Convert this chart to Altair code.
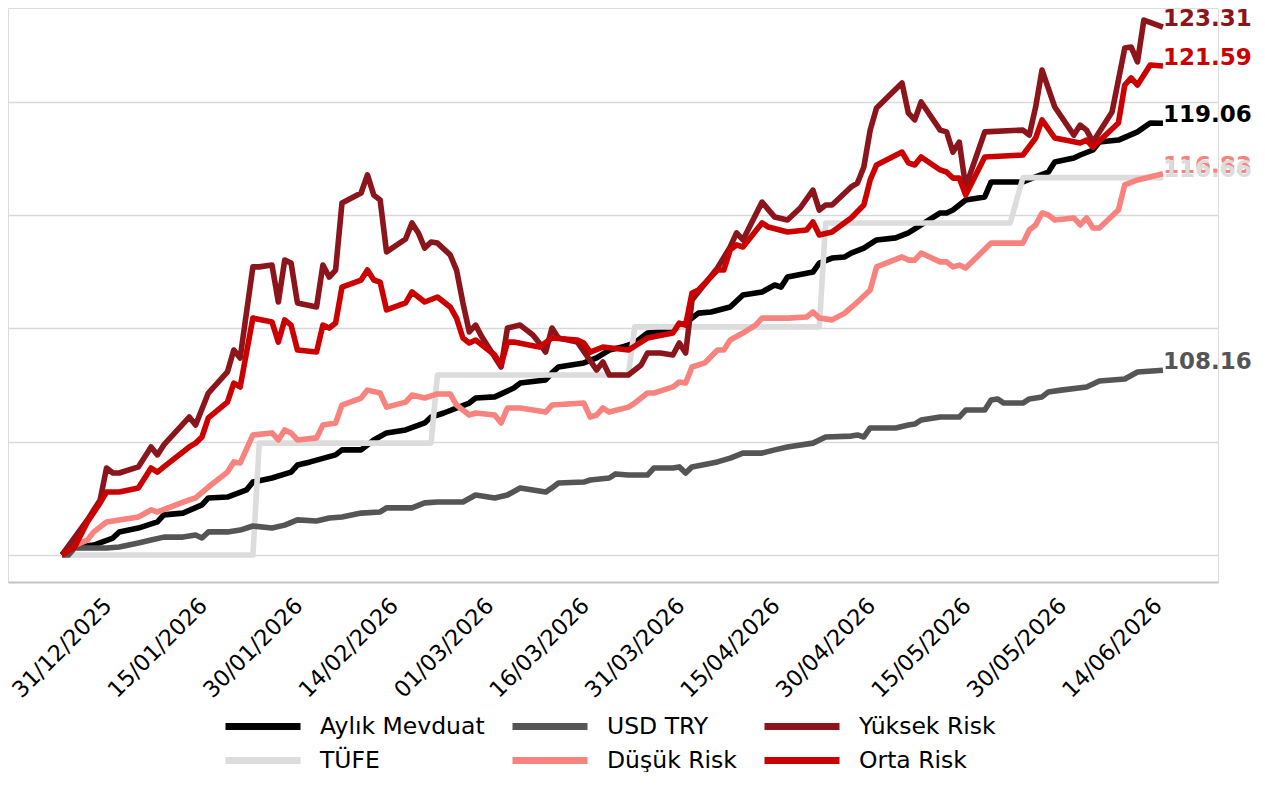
import altair as alt
import pandas as pd

BASE = pd.Timestamp("2025-12-31")

# ---- data: day offsets from 31/12/2025 and index values (start = 100) ----
aylik_gun = [-7, -6, -2, 1, 2, 5, 8, 9, 12, 15, 16, 19, 22, 23, 26, 29, 30, 32, 36, 37,
             40, 42, 44, 47, 50, 51, 53, 57, 58, 61, 64, 65, 69, 70, 71, 75, 77, 79, 81, 83,
             85, 89, 91, 93, 95, 98, 100, 103, 105, 106, 107, 111, 112, 114, 116, 117, 119, 121, 124, 126,
             128, 131, 132, 133, 134, 135, 138, 139, 144, 146, 148, 149, 152, 153, 155, 156, 159, 162, 164, 166]
aylik_deger = [100, 100.31, 100.44, 100.75, 101.02, 101.19, 101.46, 101.77, 101.85, 102.21,
               102.52, 102.56, 102.87, 103.22, 103.40, 103.66, 103.97, 104.11, 104.42, 104.64,
               104.64, 105.08, 105.39, 105.52, 105.83, 106.09, 106.27, 106.71, 106.93, 106.98,
               107.37, 107.59, 107.73, 108.04, 108.30, 108.48, 108.70, 109.05, 109.18, 109.36,
               109.80, 109.93, 110.24, 110.68, 110.73, 110.95, 111.48, 111.61, 111.92, 111.83,
               112.27, 112.49, 112.89, 113.11, 113.16, 113.33, 113.55, 113.91, 114.00, 114.22,
               114.57, 115.10, 115.10, 115.23, 115.45, 115.67, 115.81, 116.47, 116.47, 116.69,
               116.91, 117.35, 117.53, 117.66, 117.88, 118.23, 118.32, 118.68, 119.07, 119.06]

usd_gun = [-7, -6, -5, 0, 2, 5, 7, 9, 12, 14, 15, 16, 19, 21, 23, 26, 28, 30, 33, 35,
           37, 40, 43, 44, 48, 50, 52, 56, 58, 61, 63, 65, 69, 70, 71, 75, 76, 79, 80, 82,
           85, 86, 89, 90, 91, 92, 96, 98, 100, 103, 105, 107, 111, 113, 117, 118, 119, 120, 124, 126,
           127, 128, 131, 134, 135, 138, 139, 140, 141, 144, 145, 147, 148, 150, 154, 156, 160, 162, 166]
usd_deger = [100, 100, 100.31, 100.31, 100.35, 100.53, 100.66, 100.79, 100.79, 100.88,
             100.75, 101.02, 101.02, 101.10, 101.28, 101.19, 101.32, 101.55, 101.50, 101.63,
             101.68, 101.85, 101.90, 102.08, 102.08, 102.30, 102.34, 102.34, 102.65, 102.52,
             102.65, 102.96, 102.78, 102.96, 103.18, 103.22, 103.31, 103.40, 103.58, 103.53,
             103.53, 103.84, 103.84, 103.89, 103.62, 103.89, 104.11, 104.28, 104.50, 104.50,
             104.64, 104.77, 104.94, 105.21, 105.25, 105.30, 105.21, 105.61, 105.61, 105.74,
             105.78, 105.96, 106.09, 106.09, 106.40, 106.40, 106.84, 106.89, 106.71, 106.71,
             106.89, 106.98, 107.20, 107.28, 107.42, 107.68, 107.77, 108.08, 108.16]

yuksek_gun = [-7, -3, -1, 0, 1, 2, 5, 7, 8, 9, 13, 14, 16, 19, 20, 21, 23, 24, 26, 27,
              28, 29, 30, 33, 34, 35, 36, 37, 40, 41, 42, 43, 44, 47, 48, 49, 50, 51, 52, 54,
              55, 56, 57, 58, 59, 62, 63, 65, 67, 68, 69, 70, 71, 74, 77, 78, 79, 82, 84, 85,
              87, 89, 90, 91, 92, 96, 98, 99, 100, 103, 105, 107, 109, 111, 112, 113, 114, 117, 118, 119,
              120, 121, 125, 126, 127, 128, 131, 132, 133, 134, 135, 138, 144, 145, 146, 147, 149, 152, 153, 154,
              155, 158, 160, 161, 162, 163, 166]
yuksek_deger = [100, 101.55, 102.43, 103.84, 103.62, 103.62, 103.89, 104.77, 104.42, 104.86,
                106.09, 105.74, 107.15, 108.08, 109.05, 108.70, 112.72, 112.72, 112.80, 111.17,
                113.02, 112.89, 111.13, 110.95, 112.80, 112.27, 112.58, 115.54, 115.98, 116.78,
                115.89, 115.67, 113.38, 113.95, 114.66, 114.22, 113.55, 113.82, 113.77, 113.25,
                112.58, 111.13, 109.85, 110.15, 109.62, 108.30, 110.02, 110.15, 109.71, 109.36,
                108.96, 110.02, 109.58, 109.40, 108.17, 108.52, 107.95, 107.95, 108.39, 108.92,
                108.92, 108.83, 109.36, 108.92, 111.26, 112.67, 113.60, 114.22, 113.91, 115.58,
                114.92, 114.79, 115.32, 116.11, 115.23, 115.45, 115.45, 116.25, 116.42, 117.13,
                118.76, 119.74, 120.84, 119.51, 119.21, 120.00, 118.76, 118.68, 117.79, 118.23,
                116.25, 118.68, 118.76, 118.54, 119.78, 121.41, 119.78, 118.54, 118.98, 118.76,
                118.23, 119.56, 122.38, 122.43, 121.77, 123.62, 123.31]

orta_gun = [-7, -5, -3, -1, 0, 2, 5, 7, 8, 9, 13, 14, 15, 16, 19, 20, 21, 23, 26, 27,
            28, 29, 30, 33, 34, 35, 36, 37, 40, 41, 42, 43, 44, 47, 48, 50, 52, 54, 55, 56,
            57, 58, 61, 62, 63, 64, 68, 70, 74, 75, 76, 78, 82, 85, 89, 90, 91, 92, 93, 96,
            97, 98, 99, 100, 103, 104, 107, 110, 111, 112, 114, 117, 119, 120, 121, 125, 126, 127, 128, 131,
            132, 133, 134, 135, 138, 144, 146, 147, 149, 153, 154, 155, 159, 160, 161, 162, 164, 166]
orta_deger = [100, 100.35, 101.46, 102.30, 102.78, 102.78, 102.96, 103.84, 103.66, 103.89,
              104.77, 104.94, 105.21, 106.05, 106.75, 107.59, 107.42, 110.46, 110.29, 109.40,
              110.38, 110.15, 109.05, 108.96, 110.15, 110.02, 110.24, 111.83, 112.14, 112.58,
              112.14, 112.05, 110.82, 111.13, 111.61, 111.17, 111.39, 110.95, 110.46, 109.58,
              109.36, 109.49, 108.83, 108.39, 109.40, 109.40, 109.18, 109.58, 109.49, 109.36,
              108.96, 109.18, 109.05, 109.58, 109.80, 110.24, 110.15, 111.57, 111.70, 112.58,
              112.58, 113.47, 113.69, 113.60, 114.66, 114.48, 114.26, 114.35, 114.70, 114.13,
              114.26, 114.88, 115.45, 116.56, 117.22, 117.79, 117.31, 117.22, 117.57, 117.00,
              116.91, 116.64, 116.64, 115.89, 117.57, 117.66, 118.41, 119.21, 118.41, 118.19,
              118.32, 118.01, 119.07, 120.75, 121.06, 120.75, 121.63, 121.59]

dusuk_gun = [-7, -6, -3, -2, 0, 2, 5, 7, 8, 13, 14, 16, 19, 20, 21, 23, 26, 27, 28, 29,
             30, 33, 34, 36, 37, 40, 41, 43, 44, 47, 48, 50, 52, 54, 55, 57, 58, 61, 62, 63,
             65, 69, 70, 75, 76, 77, 78, 79, 82, 83, 85, 86, 89, 90, 91, 92, 94, 96, 97, 98,
             100, 102, 103, 107, 110, 111, 112, 114, 116, 118, 120, 121, 125, 126, 127, 128, 131, 132, 133, 134,
             135, 139, 144, 145, 146, 147, 148, 149, 152, 153, 154, 155, 156, 159, 160, 162, 166]
dusuk_deger = [100, 100.31, 100.66, 101.02, 101.46, 101.55, 101.68, 101.99, 101.90, 102.43,
               102.52, 103.00, 103.66, 104.11, 104.06, 105.30, 105.39, 105.08, 105.52, 105.39,
               105.08, 105.17, 105.74, 105.83, 106.62, 106.93, 107.28, 107.15, 106.53, 106.75,
               107.06, 106.93, 107.11, 107.11, 106.62, 106.18, 106.27, 106.18, 105.83, 106.49,
               106.49, 106.31, 106.62, 106.71, 106.09, 106.18, 106.49, 106.31, 106.53, 106.71,
               107.15, 107.15, 107.42, 107.64, 107.59, 108.30, 108.48, 109.05, 109.05, 109.49,
               109.80, 110.15, 110.46, 110.46, 110.51, 110.73, 110.46, 110.38, 110.68, 111.17,
               111.70, 112.72, 113.16, 113.02, 113.02, 113.33, 112.94, 112.94, 112.72, 112.80,
               112.67, 113.77, 113.77, 114.35, 114.57, 115.10, 115.01, 114.79, 114.88, 114.57,
               114.88, 114.44, 114.44, 115.23, 116.34, 116.56, 116.83]

tufe_gun = [-7, 23, 24, 51, 52, 82, 83, 112, 113, 142, 144, 166]
tufe_deger = [100, 100, 104.94, 104.94, 107.95, 107.95, 110.07, 110.07, 114.66, 114.66, 116.66, 116.66]

tick_gun = [0, 15, 30, 45, 60, 75, 90, 105, 120, 135, 150, 165]
grid_values = [100, 105, 110, 115, 120]

LEGEND_ORDER = ["Aylık Mevduat", "USD TRY", "Yüksek Risk", "TÜFE", "Düşük Risk", "Orta Risk"]
COLORS = {
    "Aylık Mevduat": "#000000",
    "USD TRY": "#555555",
    "Yüksek Risk": "#8B151B",
    "TÜFE": "#DCDCDC",
    "Düşük Risk": "#F8827D",
    "Orta Risk": "#CC0000",
}
DRAW_ORDER = [
    ("Aylık Mevduat", aylik_gun, aylik_deger),
    ("TÜFE", tufe_gun, tufe_deger),
    ("USD TRY", usd_gun, usd_deger),
    ("Düşük Risk", dusuk_gun, dusuk_deger),
    ("Yüksek Risk", yuksek_gun, yuksek_deger),
    ("Orta Risk", orta_gun, orta_deger),
]
LABEL_ORDER = ["Aylık Mevduat", "USD TRY", "Yüksek Risk", "Orta Risk", "Düşük Risk", "TÜFE"]


def to_ms(days):
    return float((BASE + pd.Timedelta(days=days)).value // 10**6)


rows = []
for name, g, v in DRAW_ORDER:
    assert len(g) == len(v), name
    for gi, vi in zip(g, v):
        rows.append({"seri": name, "tarih": to_ms(gi), "deger": vi})
df = pd.DataFrame(rows)

last = []
for name in LABEL_ORDER:
    sub = df[df["seri"] == name]
    r = sub.iloc[-1]
    last.append({"seri": name, "tarih": r["tarih"], "deger": r["deger"], "renk": COLORS[name]})
df_last = pd.DataFrame(last)

FONT = "DejaVu Sans"

x_enc = alt.X(
    "tarih:T",
    title=None,
    scale=alt.Scale(type="utc", domain=[to_ms(-15.48), to_ms(174.65)], nice=False),
    axis=alt.Axis(
        values=[to_ms(t) for t in tick_gun],
        labelExpr="utcFormat(datum.value, '%d/%m/%Y')",
        labelAngle=-45, labelAlign="right", labelBaseline="top",
        labelOffset=-6.5, labelPadding=12, labelOverlap=False, labelFlush=False,
        labelFont=FONT, labelFontSize=22.5, labelColor="#000000",
        ticks=False, grid=False, domainColor="#c4c4c4", domainWidth=2,
    ),
)
y_enc = alt.Y(
    "deger:Q",
    title=None,
    scale=alt.Scale(domain=[98.808, 124.150], nice=False, zero=False),
    axis=alt.Axis(values=grid_values, labels=False, ticks=False, domain=False,
                  grid=True, gridColor="#d9d9d9", gridWidth=1.5),
)

lines = alt.Chart(df).mark_line(strokeWidth=5.6, strokeJoin="round", strokeCap="butt").encode(
    x=x_enc,
    y=y_enc,
    color=alt.Color(
        "seri:N",
        scale=alt.Scale(domain=LEGEND_ORDER, range=[COLORS[s] for s in LEGEND_ORDER]),
        legend=alt.Legend(
            title=None, orient="none", legendX=214, legendY=704,
            direction="horizontal", columns=3, symbolType="stroke",
            symbolSize=75 * 75, symbolStrokeWidth=7, clipHeight=29,
            rowPadding=5, columnPadding=24, labelOffset=16, symbolOffset=0,
            labelFont=FONT, labelFontSize=23.5, labelColor="#000000",
            labelLimit=500, padding=0, gridAlign="each",
        ),
    ),
)

labels = alt.Chart(df_last).mark_text(
    align="left", baseline="bottom", dy=4, fontSize=23, fontWeight="bold", font=FONT
).encode(
    x=x_enc,
    y=y_enc,
    text=alt.Text("deger:Q", format=".2f"),
    color=alt.Color("renk:N", scale=None),
)

chart = alt.layer(lines, labels).properties(
    width=1210,
    height=574,
    autosize=alt.AutoSizeParams(type="none"),
    padding={"left": 0, "top": 0, "right": 38, "bottom": 190},
).configure_view(strokeWidth=0, strokeOpacity=0).configure(background="white")

chart.save("out.html", embed_options={"renderer": "svg", "actions": False})
